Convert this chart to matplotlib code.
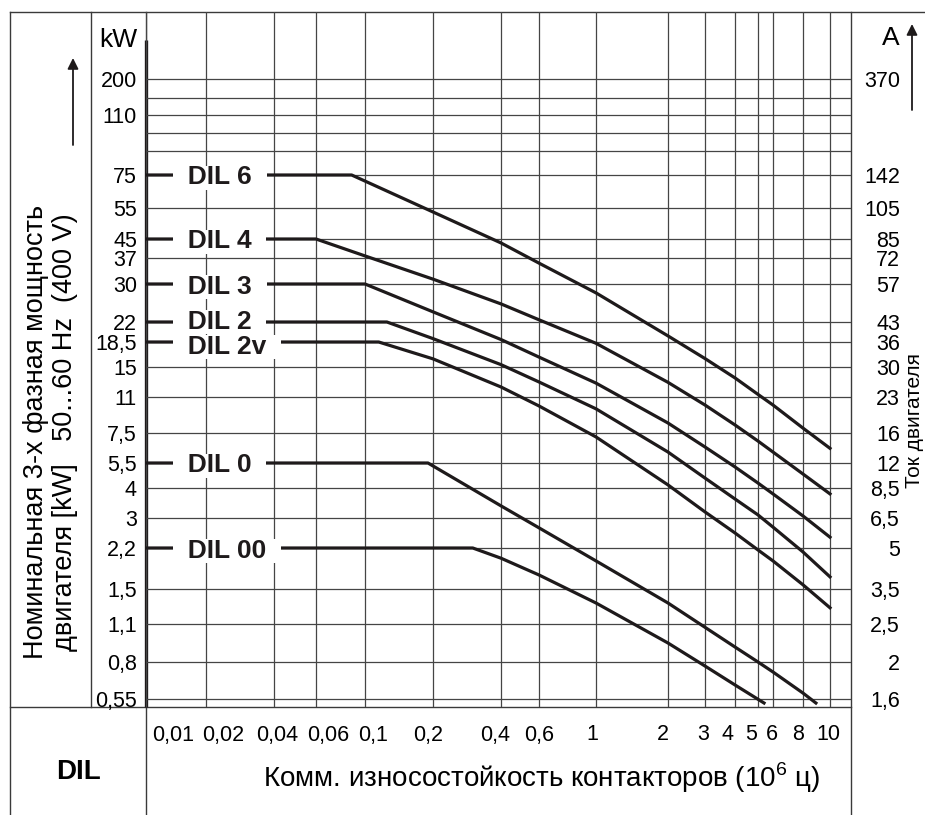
import numpy as np
import matplotlib
matplotlib.use("Agg")
import matplotlib.pyplot as plt

plt.rcParams['font.family'] = ['Liberation Sans', 'DejaVu Sans']
plt.rcParams['mathtext.fontset'] = 'custom'
plt.rcParams['mathtext.rm'] = 'Liberation Sans'

# --- data -------------------------------------------------------------
# switching cycles (10^6) and kW ratings on the nomogram
cycles = [0.01, 0.02, 0.04, 0.06, 0.1, 0.2, 0.4, 0.6, 1, 2, 3, 4, 5, 6, 8, 10]
cycle_labels = ['0,01', '0,02', '0,04', '0,06', '0,1', '0,2', '0,4', '0,6',
                '1', '2', '3', '4', '5', '6', '8', '10']

kw_ticks = [0.55, 0.8, 1.1, 1.5, 2.2, 3, 4, 5.5, 7.5, 11, 15, 18.5, 22, 30,
            37, 45, 55, 75, 110, 200]
kw_labels = ['0,55', '0,8', '1,1', '1,5', '2,2', '3', '4', '5,5', '7,5', '11',
             '15', '18,5', '22', '30', '37', '45', '55', '75', '110', '200']
amp_labels = ['1,6', '2', '2,5', '3,5', '5', '6,5', '8,5', '12', '16', '23',
              '30', '36', '43', '57', '72', '85', '105', '142', '', '370']
kw_extra = [90, 100, 150]  # unlabeled grid lines

dil6_x = [0.01, 0.087, 0.2, 0.4, 0.6, 1, 2, 3, 4, 5, 6, 8, 10]
dil6_y = [75, 75, 53.6, 43.2, 35.5, 27.9, 19.5, 16.1, 13.4, 11.3, 10.1, 7.9, 6.4]

dil4_x = [0.01, 0.06, 0.1, 0.2, 0.4, 0.6, 1, 2, 3, 4, 5, 6, 8, 10]
dil4_y = [45, 45, 37.8, 31.2, 25.5, 22.4, 18.3, 12.8, 10.1, 8.17, 6.9, 6.16, 4.78, 3.78]

dil3_x = [0.01, 0.1, 0.2, 0.4, 0.6, 1, 2, 3, 4, 5, 6, 8, 10]
dil3_y = [30, 30, 23.9, 18.9, 16.3, 12.7, 8.34, 6.49, 5.23, 4.26, 3.78, 3.06, 2.46]

dil2_x = [0.01, 0.125, 0.2, 0.4, 0.6, 1, 2, 3, 4, 5, 6, 8, 10]
dil2_y = [22, 22, 19.05, 15.3, 12.85, 9.7, 6.16, 4.54, 3.6, 3.09, 2.73, 2.12, 1.68]

dil2v_x = [0.01, 0.115, 0.2, 0.4, 0.6, 1, 2, 3, 4, 5, 6, 8, 10]
dil2v_y = [18.5, 18.5, 16.06, 12.2, 10.0, 7.2, 4.16, 3.18, 2.57, 2.16, 1.95, 1.56, 1.27]

dil0_x = [0.01, 0.19, 0.4, 0.6, 1, 2, 3, 4, 5, 6, 8, 8.9]
dil0_y = [5.5, 5.5, 3.37, 2.71, 1.95, 1.325, 1.07, 0.907, 0.8, 0.723, 0.584, 0.528]

dil00_x = [0.01, 0.3, 0.4, 0.6, 1, 2, 3, 4, 5.38]
dil00_y = [2.2, 2.2, 2.0, 1.71, 1.325, 0.938, 0.768, 0.634, 0.528]

curves = [('DIL 6', dil6_x, dil6_y), ('DIL 4', dil4_x, dil4_y),
          ('DIL 3', dil3_x, dil3_y), ('DIL 2', dil2_x, dil2_y),
          ('DIL 2v', dil2v_x, dil2v_y), ('DIL 0', dil0_x, dil0_y),
          ('DIL 00', dil00_x, dil00_y)]

# --- layout: the printed nomogram has uneven log spacing -----------------
X_VAL = cycles + [11.9]
X_PX = [146, 206, 274, 316, 365, 433, 501, 539, 596, 668, 705, 735, 758, 773,
        803, 830, 851]
Y_VAL = [0.507, 0.55, 0.8, 1.1, 1.5, 2.2, 3, 4, 5.5, 7.5, 11, 15, 18.5, 22, 30,
         37, 45, 55, 75, 90, 100, 110, 150, 200, 550]
Y_PX = [707, 699, 662, 624, 589, 548, 518, 488, 463, 433, 397, 367, 342, 322,
        284, 258, 239, 208, 175, 151, 133, 115, 98, 79, 12]
XLAB_SHIFT = [27, 17, 3, 12, 8, -5, -6, 0, -4, -5, -2, -7, -7, -1, -5, -2]
LABEL_DY = [0, 0, 0, 2.5, -2.5, 0, 0]   # nudge the two close DIL 2 labels apart

xl = np.log10(X_VAL)
xp = np.array(X_PX, float)
yl = np.log10(Y_VAL)
yh = 707 - np.array(Y_PX, float)


def fwd_x(v):
    return np.interp(np.log10(np.clip(np.asarray(v, float), 1e-9, None)), xl, xp)


def inv_x(p):
    return 10 ** np.interp(np.asarray(p, float), xp, xl)


def fwd_y(v):
    return np.interp(np.log10(np.clip(np.asarray(v, float), 1e-9, None)), yl, yh)


def inv_y(p):
    return 10 ** np.interp(np.asarray(p, float), yh, yl)


INK = '#1e1a1b'
GRID = '#454545'
TICK_FS = 15.5

fig = plt.figure(figsize=(9.25, 8.15), dpi=100)

# background axes in pixel coordinates for the frame / table lines
bg = fig.add_axes([0, 0, 1, 1])
bg.set_xlim(0, 925)
bg.set_ylim(815, 0)
bg.axis('off')
frame = dict(color='#3a3a3a', lw=1.0)
bg.plot([10, 925], [12, 12], **frame)
bg.plot([10, 10], [12, 815], **frame)
bg.plot([91, 91], [12, 707], **frame)
bg.plot([146, 146], [12, 815], **frame)
bg.plot([851, 851], [12, 815], **frame)
bg.plot([10, 851], [707, 707], **frame)
bg.plot([146, 146], [40, 707], color=INK, lw=2.4, solid_capstyle='butt')

ax = fig.add_axes([146 / 925, (815 - 707) / 815, (851 - 146) / 925, (707 - 12) / 815])
ax.patch.set_alpha(0)
ax.set_xscale('function', functions=(fwd_x, inv_x))
ax.set_yscale('function', functions=(fwd_y, inv_y))
ax.set_xlim(0.01, 11.9)
ax.set_ylim(0.507, 550)
for s in ax.spines.values():
    s.set_visible(False)

ax.set_xticks(cycles)
ax.set_yticks(kw_ticks, kw_labels)
ax.set_yticks(kw_extra, minor=True)
ax.tick_params(axis='x', length=0, labelbottom=False)
ax.tick_params(axis='y', which='both', length=0, pad=6.5, labelsize=TICK_FS)
ax.grid(True, which='both', color=GRID, lw=0.9)

for v, lab, dx in zip(cycles, cycle_labels, XLAB_SHIFT):
    ax.annotate(lab, xy=(v, 0), xycoords=('data', 'axes fraction'),
                xytext=(dx, -28), textcoords='offset pixels',
                ha='center', va='center', fontsize=TICK_FS, annotation_clip=False)

for i, (name, xs, ys) in enumerate(curves):
    ax.plot(xs, ys, color=INK, lw=2.3, zorder=3)
    ax.annotate('  ' + name + '  ', xy=(xs[0], ys[0]), xytext=(27, LABEL_DY[i]),
                textcoords='offset pixels', ha='left', va='center_baseline',
                fontsize=19, fontweight='bold', color=INK,
                bbox=dict(boxstyle='square,pad=0', fc='white', ec='none'),
                zorder=4 + i, annotation_clip=False)

# motor current scale on the right
ax2 = ax.twinx()
ax2.set_yscale('function', functions=(fwd_y, inv_y))
ax2.set_ylim(ax.get_ylim())
ax2.set_yticks(kw_ticks, amp_labels)
ax2.tick_params(axis='y', length=0, pad=35.3, labelsize=TICK_FS)
for t in ax2.get_yticklabels():
    t.set_horizontalalignment('right')
for s in ax2.spines.values():
    s.set_visible(False)

# texts outside the plot area
bg.text(137, 40, 'kW', ha='right', va='center', fontsize=19)
bg.text(900, 38, 'A', ha='right', va='center', fontsize=19)
bg.text(51, 432, 'Номинальная 3-х фазная мощность\nдвигателя [kW]   50...60 Hz  (400 V)',
        rotation=90, ha='center', va='center', multialignment='center',
        fontsize=19.5, linespacing=1.15)
bg.text(915, 420, 'Ток двигателя', rotation=90, ha='center', va='center', fontsize=15)
bg.text(79, 772, 'DIL', ha='center', va='center', fontsize=20, fontweight='bold')
bg.text(542, 778, 'Комм. износостойкость контакторов (10$^6$ ц)',
        ha='center', va='center', fontsize=20)

arrow = dict(arrowstyle='-|>', color=INK, lw=1.3, mutation_scale=16,
             shrinkA=0, shrinkB=0)
bg.annotate('', xy=(73, 58), xytext=(73, 145), arrowprops=arrow)
bg.annotate('', xy=(912, 24), xytext=(912, 110), arrowprops=arrow)

fig.savefig('out.png', dpi=100)
